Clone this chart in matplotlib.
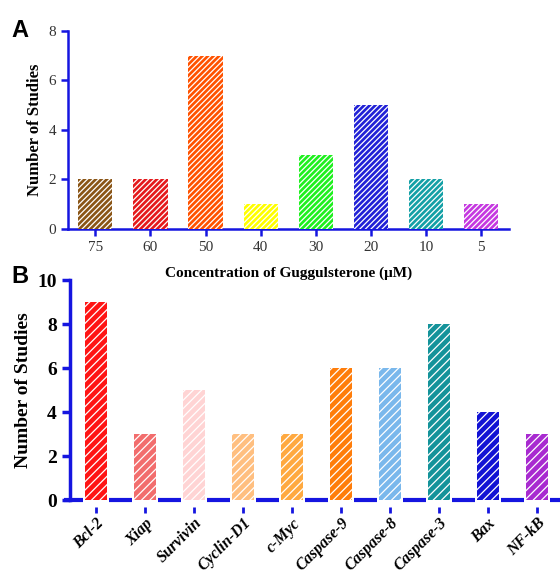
import matplotlib
matplotlib.use('Agg')
import matplotlib.pyplot as plt
import matplotlib.transforms as mtransforms

plt.rcParams['font.family'] = ['Liberation Serif', 'DejaVu Serif']
plt.rcParams['hatch.linewidth'] = 0.9

# panel A data
conc = ['75', '60', '50', '40', '30', '20', '10', '5']
conc_counts = [2, 2, 7, 1, 3, 5, 2, 1]
conc_colors = ['#8a5516', '#e4191c', '#ff5200', '#ffff00', '#1ef01e', '#2121d6', '#13a0a6', '#c538e0']

# panel B data
genes = ['Bcl-2', 'Xiap', 'Survivin', 'Cyclin-D1', 'c-Myc', 'Caspase-9',
         'Caspase-8', 'Caspase-3', 'Bax', 'NF-kB']
gene_counts = [9, 3, 5, 3, 3, 6, 6, 8, 4, 3]
gene_colors = ['#ff1414', '#f26d6d', '#ffd4d4', '#ffbf80', '#ffa940', '#ff7d0a',
               '#7ab8ec', '#14939a', '#1212d4', '#a82ad0']

blue = '#1515e0'

fig = plt.figure(figsize=(5.6, 5.79), dpi=100)

# ---- panel A
ax1 = fig.add_axes([0.121, 0.6045, 0.7875, 0.342])
x1 = range(len(conc))
ax1.bar(x1, conc_counts, width=0.62, color=conc_colors, edgecolor='white',
        linewidth=0, hatch='//////', zorder=3)
ax1.set_xlim(-0.5, 7.5)
ax1.set_ylim(0, 8)
ax1.set_yticks([0, 2, 4, 6, 8])
ax1.set_xticks(list(x1))
ax1.set_xticklabels(conc)
for s in ['top', 'right']:
    ax1.spines[s].set_visible(False)
for s in ['left', 'bottom']:
    ax1.spines[s].set_color(blue)
    ax1.spines[s].set_linewidth(1.8)
ax1.tick_params(axis='both', colors=blue, width=1.8, length=5, labelsize=11,
                labelcolor='#333333')
ax1.set_ylabel('Number of Studies', fontsize=12, fontweight='bold')
ax1.set_xlabel('Concentration of Guggulsterone (\u03bcM)', fontsize=11,
               fontweight='bold', labelpad=9)

# ---- panel B
ax2 = fig.add_axes([0.125, 0.1364, 0.875, 0.38])
ax2.patch.set_visible(False)
x2 = list(range(len(genes)))
w2 = 0.43
ax2.bar(x2, gene_counts, width=w2, color=gene_colors, edgecolor='white',
        linewidth=0, hatch='////', zorder=3)
ax2.set_xlim(-0.53, 9.47)
ax2.set_ylim(0, 10)
ax2.set_yticks([0, 2, 4, 6, 8, 10])
ax2.set_xticks(x2)
ax2.set_xticklabels(genes, rotation=45, ha='right', rotation_mode='anchor',
                    fontstyle='italic', fontweight='bold', fontsize=11.5)
for s in ['top', 'right', 'bottom']:
    ax2.spines[s].set_visible(False)
ax2.spines['left'].set_color(blue)
ax2.spines['left'].set_linewidth(2.5)
# broken baseline between the bars
gap = 0.05
starts = [-0.66] + [i + w2 / 2 + gap for i in x2]
ends = [i - w2 / 2 - gap for i in x2] + [9.6]
ax2.hlines([0] * len(starts), starts, ends, colors=blue, linewidth=3,
           clip_on=False, zorder=4)
# detached tick marks below the baseline
tick_tr = mtransforms.offset_copy(ax2.transData, fig=fig, x=0, y=-7, units='points')
ax2.plot(x2, [0] * len(x2), linestyle='none', marker='|', markersize=5,
         markeredgewidth=2, color=blue, transform=tick_tr, clip_on=False)
ax2.tick_params(axis='y', colors=blue, width=2.5, length=6, labelsize=14,
                labelcolor='black')
ax2.tick_params(axis='x', length=0, pad=11, labelcolor='black')
for lab in ax2.get_yticklabels():
    lab.set_fontweight('bold')
ax2.set_ylabel('Number of Studies', fontsize=14, fontweight='bold')

fig.text(0.02, 0.936, 'A', fontsize=17, fontweight='bold', family='Liberation Sans')
fig.text(0.02, 0.511, 'B', fontsize=17, fontweight='bold', family='Liberation Sans')

fig.savefig('out.png', dpi=100)
